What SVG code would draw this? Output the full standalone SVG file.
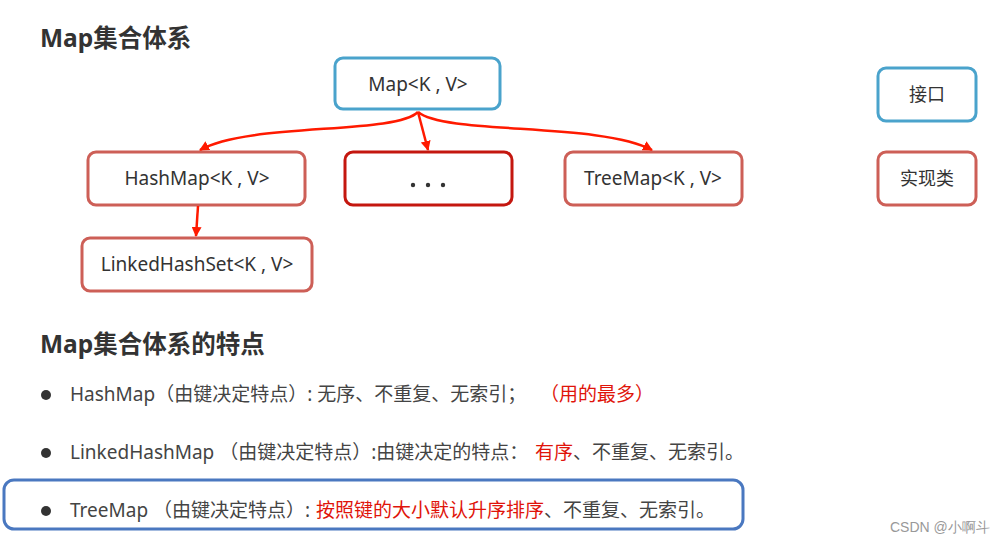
<svg xmlns="http://www.w3.org/2000/svg" width="1005" height="543" viewBox="0 0 1005 543">
<style>
text{font-family:"Noto Sans","Noto Sans CJK SC",sans-serif;}
.h{font-size:24.5px;font-weight:bold;fill:#333;}
.bx{fill:#fff;stroke-width:3;}
.blue{stroke:#4aa3cc;}
.red{stroke:#cd5f57;}
.dark{stroke:#c4170f;}
.lbl{font-size:19px;fill:#333;text-anchor:middle;}
.lg{font-size:18px;fill:#333;text-anchor:middle;}
.li{font-size:19px;fill:#444;}
.r{fill:#e0140a;}
.conn{fill:none;stroke:#ff1a00;stroke-width:2.5;marker-end:url(#ah);}
</style>
<defs>
<marker id="ah" viewBox="0 0 10 10" refX="9" refY="5" markerWidth="4" markerHeight="4" orient="auto" markerUnits="strokeWidth">
<path d="M0,0 L10,5 L0,10 z" fill="#ff1a00"/>
</marker>
</defs>
<rect width="1005" height="543" fill="#fff"/>
<text class="h" x="40" y="47">Map集合体系</text>
<g id="map"><rect class="bx blue" x="335" y="58" width="165" height="51" rx="8"/><text class="lbl" x="418" y="91">Map&lt;K , V&gt;</text></g>
<g id="hashmap"><rect class="bx red" x="88" y="152" width="217" height="53" rx="8"/><text class="lbl" x="197" y="185">HashMap&lt;K , V&gt;</text></g>
<g id="etc"><rect class="bx dark" x="345" y="152" width="167" height="53" rx="8"/><circle cx="413" cy="185" r="2.2" fill="#333"/><circle cx="428" cy="185" r="2.2" fill="#333"/><circle cx="443" cy="185" r="2.2" fill="#333"/></g>
<g id="treemap"><rect class="bx red" x="565" y="152" width="177" height="53" rx="8"/><text class="lbl" x="653" y="185">TreeMap&lt;K , V&gt;</text></g>
<g id="linkedhashset"><rect class="bx red" x="82" y="238" width="230" height="53" rx="8"/><text class="lbl" x="197" y="271">LinkedHashSet&lt;K , V&gt;</text></g>
<g id="legend-interface"><rect class="bx blue" x="878" y="68" width="98" height="53" rx="8"/><text class="lg" x="927" y="101">接口</text></g>
<g id="legend-impl"><rect class="bx red" x="878" y="152" width="98" height="53" rx="8"/><text class="lg" x="927" y="185">实现类</text></g>
<g id="connectors">
<path class="conn" d="M418,112 C395,135 250,122 200,150"/>
<path class="conn" d="M418,112 L428,150"/>
<path class="conn" d="M418,112 C445,135 600,122 652,150"/>
<path class="conn" d="M198,206 L196,236"/>
</g>
<text class="h" x="40" y="353">Map集合体系的特点</text>
<g id="features">
<circle cx="46" cy="395" r="5" fill="#333"/>
<text class="li" x="70" y="401">HashMap（由键决定特点）: 无序、不重复、无索引；<tspan class="r" x="540">（用的最多）</tspan></text>
<circle cx="46" cy="453" r="5" fill="#333"/>
<text class="li" x="70" y="459">LinkedHashMap （由键决定特点）:由键决定的特点：<tspan class="r" x="535">有序</tspan><tspan x="573">、不重复、无索引。</tspan></text>
<rect x="4" y="480" width="739" height="49" rx="10" fill="none" stroke="#4a78c0" stroke-width="3"/>
<circle cx="46" cy="511" r="5" fill="#333"/>
<text class="li" x="70" y="517">TreeMap （由键决定特点）:<tspan class="r" x="316">按照键的大小默认升序排序</tspan><tspan x="544">、不重复、无索引。</tspan></text>
</g>
<text x="890" y="532" style="font-family:'Liberation Sans',sans-serif;font-size:14px;fill:#999">CSDN @小啊斗</text>
</svg>
